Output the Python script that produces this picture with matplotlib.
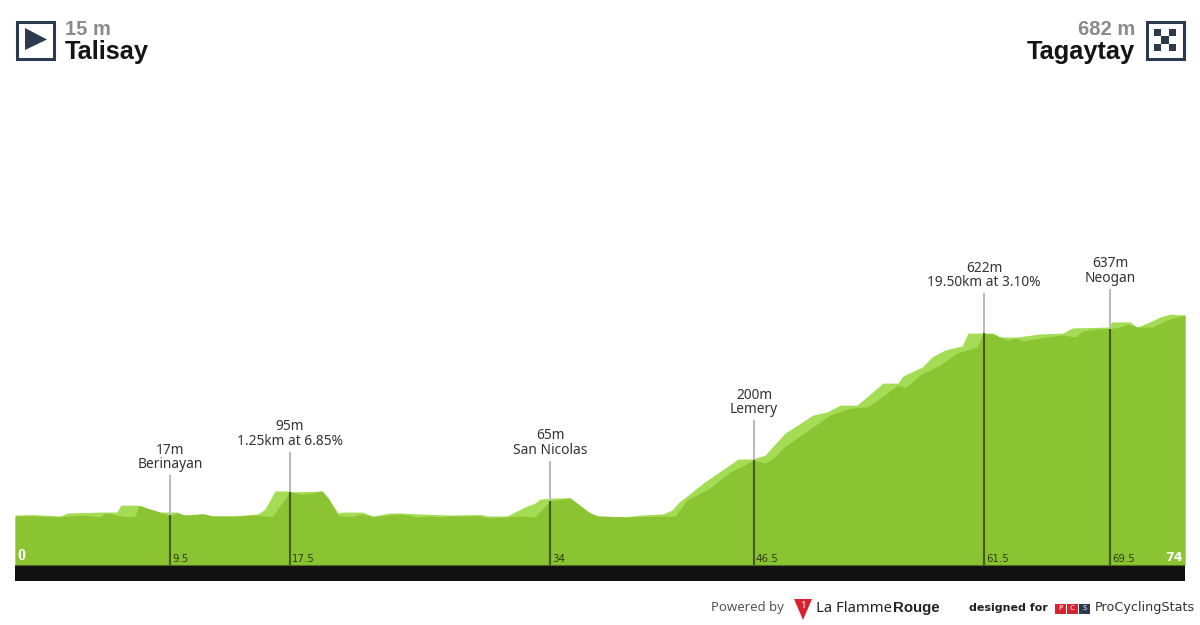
import matplotlib
matplotlib.use("Agg")
import matplotlib.pyplot as plt
from matplotlib.patches import Polygon, Rectangle

plt.rcParams['font.family'] = ['Noto Sans', 'DejaVu Sans']

# light layer, drawn behind
light_km = [0, 1.14, 1.71, 2.85, 3.35, 5.38, 6.45, 6.70, 7.72, 8.35, 9.17, 10.25, 10.75, 11.89, 12.52,
            13.79, 15.37, 15.81, 16.45, 17.27, 17.58, 19.42, 19.80, 20.43, 20.75, 21.95, 22.64, 23.72, 24.35,
            25.43, 27.51, 29.41, 29.92, 31.12, 32.26, 32.89, 33.21, 34.16, 35.10, 35.61, 36.37, 36.88, 38.58,
            39.53, 40.99, 41.56, 41.94, 43.52, 45.73, 46.62, 47.44, 48.70, 50.47, 51.36, 52.18, 53.26, 54.90,
            55.85, 56.17, 57.37, 58.00, 58.82, 59.90, 60.28, 61.86, 62.30, 63.38, 64.83, 66.29, 66.86, 69.13,
            69.38, 70.52, 70.97, 71.60, 72.42, 73.05, 74]
light_m = [18, 20, 18, 15, 25, 28, 28, 51, 51, 41, 28, 28, 18, 22, 15,
           15, 22, 38, 98, 98, 95, 98, 75, 25, 28, 28, 15, 25, 25,
           22, 18, 20, 15, 15, 45, 58, 71, 75, 75, 55, 25, 15, 12,
           18, 22, 35, 58, 124, 204, 204, 217, 290, 350, 360, 383, 383, 456,
           456, 480, 509, 543, 566, 579, 622, 622, 609, 609, 619, 622, 639, 642,
           659, 659, 642, 655, 675, 685, 682]

# main profile
dark_km = [0, 1.14, 2.85, 3.35, 4.43, 5.38, 5.69, 6.45, 7.27, 7.59, 7.84, 8.35, 9.17, 9.80, 10.25, 10.75,
           11.89, 12.52, 13.79, 15.37, 16.26, 17.39, 18.15, 18.85, 19.42, 19.80, 20.43, 21.19, 21.95, 22.64,
           24.35, 25.43, 26.25, 26.88, 27.51, 29.41, 29.92, 31.94, 32.89, 33.84, 34.22, 35.10, 35.61, 36.37,
           36.88, 38.58, 41.75, 42.50, 43.96, 45.22, 46.74, 47.44, 48.07, 48.58, 49.46, 51.55, 52.82, 53.89,
           54.84, 55.85, 56.29, 57.24, 58.51, 59.58, 60.85, 61.23, 61.86, 62.30, 62.81, 63.38, 63.76, 64.83,
           66.29, 67.05, 67.55, 68.63, 69.26, 69.89, 70.40, 70.97, 71.98, 72.86, 74]
dark_m = [15, 15, 12, 15, 18, 12, 25, 18, 12, 15, 51, 41, 28, 15, 25, 18,
          22, 15, 15, 18, 12, 95, 88, 91, 98, 75, 18, 12, 22, 12,
          22, 12, 15, 12, 15, 15, 8, 15, 12, 65, 68, 75, 55, 25,
          15, 12, 15, 68, 108, 161, 200, 191, 211, 241, 274, 350, 373, 377,
          410, 450, 440, 483, 516, 556, 576, 622, 619, 609, 599, 606, 596, 606,
          616, 609, 629, 636, 637, 642, 652, 642, 642, 666, 682]

marker_km = [9.80, 17.39, 33.84, 46.74, 61.29, 69.26]
marker_m = [17, 95, 65, 200, 622, 637]
marker_km_txt = ['9.5', '17.5', '34', '46.5', '61.5', '69.5']
marker_txt = ['17m\nBerinayan', '95m\n1.25km at 6.85%', '65m\nSan Nicolas',
              '200m\nLemery', '622m\n19.50km at 3.10%', '637m\nNeogan']

start_name, start_alt = 'Talisay', '15 m'
finish_name, finish_alt = 'Tagaytay', '682 m'
total_km = 74

W, H = 1200, 625
M_PER_PX = 1 / 0.3013
Y0_PX = 520.5  # pixel row of 0 m
BASE = (Y0_PX - 565) * M_PER_PX
DARK = '#8bc432'
LIGHT = '#a5dc55'
NAVY = '#2c3a4f'
HEAD_FONT = 'Liberation Sans'

fig = plt.figure(figsize=(W / 100, H / 100), dpi=100, facecolor='white')
ax = fig.add_axes([15 / W, (H - 581) / H, 1170 / W, (581 - 60) / H])
ax.set_xlim(0, total_km)
ax.set_ylim((Y0_PX - 581) * M_PER_PX, (Y0_PX - 60) * M_PER_PX)
ax.axis('off')

ax.fill_between(light_km, BASE, light_m, color=LIGHT, lw=0, zorder=1)
ax.fill_between(dark_km, BASE, dark_m, color=DARK, lw=0, zorder=2)
ax.axhspan(ax.get_ylim()[0], BASE, color='#111111', lw=0, zorder=3)
ax.plot([0, total_km], [BASE, BASE], color='#4f6b1c', lw=0.8, zorder=3)

stem = 40 * M_PER_PX
for km, m, km_txt, txt in zip(marker_km, marker_m, marker_km_txt, marker_txt):
    ax.plot([km, km], [BASE, m], color='#46591c', lw=1.5, zorder=4, solid_capstyle='butt')
    ax.plot([km, km], [m, m + stem], color='#bcbcbc', lw=1.5, zorder=4, solid_capstyle='butt')
    ax.annotate(txt, (km, m + stem), xytext=(0, 3), textcoords='offset pixels', ha='center', va='bottom',
                fontsize=9.9, color='#333333', linespacing=0.95)
    ax.annotate(km_txt, (km, BASE), xytext=(2, 1), textcoords='offset pixels', ha='left', va='bottom',
                fontsize=7.4, color='#2f3d12', family='DejaVu Sans')

ax.annotate('0', (0, BASE), xytext=(2, 1), textcoords='offset pixels', ha='left', va='bottom',
            fontsize=11.5, fontweight='bold', family='Liberation Serif', color='white', zorder=5)
ax.annotate(str(total_km), (total_km, BASE), xytext=(-2, 1), textcoords='offset pixels', ha='right', va='bottom',
            fontsize=9, fontweight='bold', family='DejaVu Sans', color='white', zorder=5)

# header and footer decoration, in pixel coordinates
deco = fig.add_axes([0, 0, 1, 1])
deco.set_xlim(0, W)
deco.set_ylim(H, 0)
deco.axis('off')
deco.patch.set_alpha(0)

for x0 in (16.5, 1146.5):
    deco.add_patch(Rectangle((x0, 21.5), 37, 37, fill=False, ec=NAVY, lw=2.2))
deco.add_patch(Polygon([(25, 28), (47, 39.5), (25, 50)], color=NAVY, lw=0))
for row in range(3):
    for col in range(3):
        if (row + col) % 2 == 0:
            deco.add_patch(Rectangle((1154 + col * 7.4, 29 + row * 7.4), 7.4, 7.4, color=NAVY, lw=0))

deco.text(65, 29.5, start_alt, fontsize=14.5, fontweight='bold', family=HEAD_FONT, color='#8a8a8a', va='center')
deco.text(65, 52.5, start_name, fontsize=18.3, fontweight='bold', family=HEAD_FONT, color='#141414', va='center')
deco.text(1135, 29.5, finish_alt, fontsize=14.5, fontweight='bold', family=HEAD_FONT, color='#8a8a8a', va='center', ha='right')
deco.text(1135, 52.5, finish_name, fontsize=18.3, fontweight='bold', family=HEAD_FONT, color='#141414', va='center', ha='right')

deco.text(711, 608, 'Powered by', fontsize=9.5, color='#555555', va='center')
deco.add_patch(Polygon([(794, 599), (812, 599), (803, 620)], color='#d8232f', lw=0))
deco.text(803, 606, '1', fontsize=7, color='white', fontweight='bold', ha='center', va='center')
deco.text(816, 608, 'La Flamme', fontsize=10.7, color='#222222', va='center')
deco.text(893, 608, 'Rouge', fontsize=10.8, fontweight='bold', color='#222222', va='center', family=HEAD_FONT)
deco.text(969, 608, 'designed for', fontsize=8, fontweight='bold', color='#222222', va='center', family='DejaVu Sans')
for x0, c, letter in [(1055, '#d8232f', 'P'), (1067, '#d8232f', 'C'), (1079, NAVY, 'S')]:
    deco.add_patch(Rectangle((x0, 604), 10.5, 9.5, color=c, lw=0))
    deco.text(x0 + 5.2, 608.8, letter, fontsize=5.5, fontweight='bold', color='white', ha='center', va='center')
deco.text(1095, 608, 'ProCyclingStats', fontsize=9.2, color='#333333', va='center', family='DejaVu Sans')

fig.savefig('out.png', dpi=100)
